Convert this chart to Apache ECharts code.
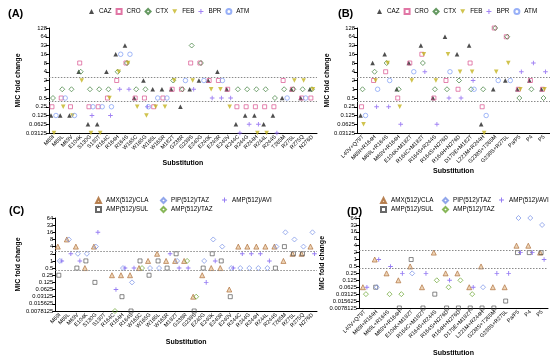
<!DOCTYPE html>
<html><head><meta charset="utf-8">
<script src="https://cdn.jsdelivr.net/npm/echarts@6/dist/echarts.min.js"></script>
<style>html,body{margin:0;padding:0;background:#fff}#c{width:550px;height:358px}</style>
</head><body><div id="c"></div>
<script>
const N = null;
const catsAC = ['M69I','M69L','M69V','E104K','S130G','S130T','R164C','R164H','R164S','W165C','W165G','W165L','W165R','M182T','G238R','G238S','E240G','E240K','E240R','E240V','R244C','R244G','R244H','R244L','R244S','T265M','R275L','R275Q','N276D'];
const catsBD = ['L40V+Q79T','M69I+R164H','M69L+R164S','M69V+R164H','E104K+M182T','R164C+M182T','R164S+R244S','R164S+N276D','R164H+N276D','D179E+M182T','L221M+R244H','G238S+T265M','G238S+R275L','Pa/P5','P4','P5'];
const yTicksAB = ['0.03125','0.0625','0.125','0.25','0.5','1','2','4','8','16','32','64','128'];
const yTicksCD = ['0.0078125','0.015625','0.03125','0.0625','0.125','0.25','0.5','1','2','4','8','16','32','64'];
const refHigh = 2.5, refLow = 0.4;

// Panel A (29 substitutions)
const A_CAZ = [0.125,0.125,0.125,4,0.0625,0.0625,4,16,32,0.5,2,1,1,1,0.25,1,2,2,4,1,0.0625,0.125,0.125,0.0625,0.125,0.5,1,0.5,1];
const A_CRO = [0.25,0.5,0.25,8,0.25,0.25,0.5,2,8,0.5,0.5,0.25,0.5,1,1,8,8,2,2,1,0.25,0.25,0.25,0.25,0.25,2,1,0.5,0.5];
const A_CTX = [0.5,1,1,4,1,1,1,4,8,1,1,N,N,2,1,32,8,N,N,N,1,1,1,1,0.5,1,1,1,1];
const A_FEB = [0.03125,0.25,0.125,2,0.03125,0.03125,0.5,4,8,0.25,0.125,0.25,0.25,2,N,2,N,1,1,0.25,N,N,0.03125,0.03125,N,N,2,2,1];
const A_BPR = [N,N,N,N,0.125,N,0.125,1,1,N,0.25,N,N,N,N,1,N,0.5,0.5,0.5,0.03125,0.0625,0.0625,N,0.03125,N,N,N,N];
const A_ATM = [0.125,0.5,0.125,N,0.25,0.25,0.25,16,16,N,0.25,0.5,0.5,N,2,N,2,N,2,N,N,N,N,N,N,0.5,N,0.5,N];

// Panel B (16 combinations)
const B_CAZ = [0.125,8,16,1,8,32,0.5,64,16,32,0.0625,1,2,1,2,1];
const B_CRO = [0.25,2,4,0.5,8,16,0.5,2,1,8,0.25,128,64,1,2,1];
const B_CTX = [1,4,8,1,N,8,1,1,2,1,1,128,64,0.5,1,0.5];
const B_FEB = [0.0625,2,8,0.25,2,16,2,16,4,4,0.03125,4,8,1,N,1];
const B_BPR = [N,0.25,0.25,0.0625,N,4,0.0625,0.5,0.5,2,N,N,N,4,8,4];
const B_ATM = [0.125,1,2,N,4,N,N,4,N,1,0.125,2,2,N,N,N];

// Panel C (29 substitutions)
const C_AMXCLA = [4,8,4,0.5,4,N,0.25,0.25,0.25,0.5,1,2,1,1,1,0.03125,0.25,0.5,0.5,0.0625,4,4,4,4,4,1,2,2,4];
const C_AMPSUL = [0.25,N,0.5,1,0.125,N,N,0.03125,0.0078125,1,0.25,1,0.5,2,N,0.0078125,0.5,2,1,0.03125,N,N,N,N,0.5,4,2,2,N];
const C_PIPTAZ = [1,8,2,2,4,N,N,0.5,0.125,N,0.5,0.5,N,1,N,N,1,8,4,0.5,0.5,0.5,0.5,0.5,4,16,8,4,16];
const C_AMPTAZ = [N,N,N,N,N,N,0.0078125,N,N,0.5,N,N,N,N,1,0.03125,N,N,N,N,N,N,N,N,N,N,N,N,N];
const C_AMPAVI = [1,2,1,N,16,N,0.0625,0.5,0.5,N,N,N,2,0.5,0.5,N,0.125,1,N,0.5,2,2,2,1,N,N,N,N,2];

// Panel D (16 combinations)
const D_AMXCLA = [0.0625,1,0.25,0.125,0.5,0.0625,2,0.25,0.25,0.0625,0.5,0.0625,0.0625,4,4,2];
const D_AMPSUL = [N,0.0625,N,0.0078125,1,0.0078125,0.03125,0.0078125,0.0078125,0.0078125,0.0078125,0.0078125,0.015625,2,2,2];
const D_PIPTAZ = [N,0.0625,N,N,0.25,N,N,N,N,N,0.0625,N,N,64,64,32];
const D_AMPTAZ = [0.03125,N,0.03125,0.03125,N,N,0.125,0.0625,0.125,0.03125,N,N,N,N,N,N];
const D_AMPAVI = [0.0625,1,0.5,0.25,N,0.25,N,0.125,N,0.0625,N,0.25,0.25,2,2,1];

const FONT = 'Liberation Sans, Arial, sans-serif';
const triDown = 'path://M0,0L10,0L5,9Z';
const plus = 'path://M4,0H6V4H10V6H6V10H4V6H0V4H4Z';

function pts(arr){ const out=[]; arr.forEach((v,i)=>{ if(v!=null) out.push([i, Math.log2(v)]); }); return out; }

const styleAB = {
  CAZ:{symbol:'triangle', size:4.6, item:{color:'#222'}, off:-2.5},
  CRO:{symbol:'rect', size:4, item:{color:'rgba(0,0,0,0)', borderColor:'#d9548f', borderWidth:0.9}, off:-1.5},
  CTX:{symbol:'diamond', size:5, item:{color:'rgba(0,0,0,0)', borderColor:'#3f7f3a', borderWidth:0.9}, off:-0.5},
  FEB:{symbol:triDown, size:4.6, item:{color:'#c4b422'}, off:0.5},
  BPR:{symbol:plus, size:4.6, item:{color:'#8a63f0'}, off:1.5},
  ATM:{symbol:'circle', size:4.5, item:{color:'rgba(0,0,0,0)', borderColor:'#7e9cf5', borderWidth:0.9}, off:2.5}
};
const styleCD = {
  'AMX(512)/CLA':{symbol:'triangle', size:5, item:{color:'#e9c9a4', borderColor:'#a8652d', borderWidth:0.8}, off:-2},
  'AMP(512)/SUL':{symbol:'rect', size:4, item:{color:'rgba(0,0,0,0)', borderColor:'#444', borderWidth:0.8}, off:-1},
  'PIP(512)/TAZ':{symbol:'diamond', size:5, item:{color:'rgba(0,0,0,0)', borderColor:'#7690e6', borderWidth:0.9}, off:0},
  'AMP(512)/TAZ':{symbol:'diamond', size:5, item:{color:'rgba(0,0,0,0)', borderColor:'#6aa52f', borderWidth:0.9}, off:1},
  'AMP(512)/AVI':{symbol:plus, size:4.6, item:{color:'#7c5cf0'}, off:2}
};

function ser(name, arr, idx, st, withRef){
  const s = {name, type:'scatter', xAxisIndex:idx, yAxisIndex:idx, data:pts(arr),
    symbol:st.symbol, symbolSize:st.size, symbolOffset:[st.off,0], itemStyle:st.item, z:3};
  if(withRef){
    s.markLine = {silent:true, symbol:'none', label:{show:false},
      lineStyle:{type:[1.5,1.5], color:'#8a8a8a', width:1},
      data:[{yAxis:Math.log2(refHigh)},{yAxis:Math.log2(refLow)}]};
  }
  return s;
}

const series = [
  ser('CAZ',A_CAZ,0,styleAB.CAZ,true), ser('CRO',A_CRO,0,styleAB.CRO), ser('CTX',A_CTX,0,styleAB.CTX),
  ser('FEB',A_FEB,0,styleAB.FEB), ser('BPR',A_BPR,0,styleAB.BPR), ser('ATM',A_ATM,0,styleAB.ATM),
  ser('CAZ',B_CAZ,1,styleAB.CAZ,true), ser('CRO',B_CRO,1,styleAB.CRO), ser('CTX',B_CTX,1,styleAB.CTX),
  ser('FEB',B_FEB,1,styleAB.FEB), ser('BPR',B_BPR,1,styleAB.BPR), ser('ATM',B_ATM,1,styleAB.ATM),
  ser('AMX(512)/CLA',C_AMXCLA,2,styleCD['AMX(512)/CLA'],true), ser('AMP(512)/SUL',C_AMPSUL,2,styleCD['AMP(512)/SUL']),
  ser('PIP(512)/TAZ',C_PIPTAZ,2,styleCD['PIP(512)/TAZ']), ser('AMP(512)/TAZ',C_AMPTAZ,2,styleCD['AMP(512)/TAZ']),
  ser('AMP(512)/AVI',C_AMPAVI,2,styleCD['AMP(512)/AVI']),
  ser('AMX(512)/CLA',D_AMXCLA,3,styleCD['AMX(512)/CLA'],true), ser('AMP(512)/SUL',D_AMPSUL,3,styleCD['AMP(512)/SUL']),
  ser('PIP(512)/TAZ',D_PIPTAZ,3,styleCD['PIP(512)/TAZ']), ser('AMP(512)/TAZ',D_AMPTAZ,3,styleCD['AMP(512)/TAZ']),
  ser('AMP(512)/AVI',D_AMPAVI,3,styleCD['AMP(512)/AVI'])
];

const grids = [
  {left:30, top:28, width:287, height:105},
  {left:357, top:28, width:193, height:105},
  {left:30, top:218, width:287, height:93},
  {left:359, top:218, width:189, height:93}
];
const xNameGap = [27, 31, 28, 42];
function xAx(i, cats){
  return {type:'category', gridIndex:i, data:cats, boundaryGap:true,
    axisLine:{onZero:false, lineStyle:{color:'#000', width:1}}, axisTick:{alignWithLabel:true, length:3, lineStyle:{color:'#000'}},
    axisLabel:{rotate:45, interval:0, fontSize:5.5, margin:3, color:'#000', fontFamily:FONT},
    name:'Substitution', nameLocation:'middle', nameGap:xNameGap[i],
    nameTextStyle:{fontWeight:'bold', fontSize:7, color:'#000', fontFamily:FONT}, splitLine:{show:false}};
}
function yAx(i, ticks, lo){
  return {type:'value', gridIndex:i, min:lo, max:lo+ticks.length-1, interval:1,
    axisLine:{show:true, onZero:false, lineStyle:{color:'#000', width:1}}, axisTick:{show:true, length:3, lineStyle:{color:'#000'}},
    axisLabel:{fontSize:5.8, margin:2, color:'#000', fontFamily:FONT, formatter:(v)=>ticks[Math.round(v-lo)]},
    splitLine:{show:false}, name:'MIC fold change', nameLocation:'middle', nameGap: (ticks===yTicksCD?31:25),
    nameTextStyle:{fontWeight:'bold', fontSize:7, color:'#000', fontFamily:FONT}};
}

const legTxt = {fontSize:6.3, color:'#000', fontFamily:FONT};
const legBase = {itemWidth:5, itemHeight:5, padding:0, textStyle:legTxt};
const option = {
  animation:false,
  textStyle:{fontFamily:FONT},
  title:[
    {text:'(A)', left:3, top:3, textStyle:{fontSize:11, fontWeight:'bold', color:'#000', fontFamily:FONT}},
    {text:'(B)', left:333, top:3, textStyle:{fontSize:11, fontWeight:'bold', color:'#000', fontFamily:FONT}},
    {text:'(C)', left:4, top:200, textStyle:{fontSize:11, fontWeight:'bold', color:'#000', fontFamily:FONT}},
    {text:'(D)', left:342, top:201, textStyle:{fontSize:11, fontWeight:'bold', color:'#000', fontFamily:FONT}}
  ],
  legend:[
    Object.assign({data:['CAZ','CRO','CTX','FEB','BPR','ATM'], left:89, top:8, itemGap:4}, legBase),
    Object.assign({data:['CAZ','CRO','CTX','FEB','BPR','ATM'], left:377, top:8, itemGap:4}, legBase),
    Object.assign({data:['AMX(512)/CLA','AMP(512)/SUL'], orient:'vertical', left:95, top:197, itemGap:2}, legBase),
    Object.assign({data:['PIP(512)/TAZ','AMP(512)/TAZ'], orient:'vertical', left:160, top:197, itemGap:2}, legBase),
    Object.assign({data:['AMP(512)/AVI'], orient:'vertical', left:222, top:197, itemGap:2}, legBase),
    Object.assign({data:['AMX(512)/CLA','AMP(512)/SUL'], orient:'vertical', left:380, top:197, itemGap:2}, legBase),
    Object.assign({data:['PIP(512)/TAZ','AMP(512)/TAZ'], orient:'vertical', left:442, top:197, itemGap:2}, legBase),
    Object.assign({data:['AMP(512)/AVI'], orient:'vertical', left:499, top:197, itemGap:2}, legBase)
  ],
  grid:grids,
  xAxis:[xAx(0,catsAC), xAx(1,catsBD), xAx(2,catsAC), xAx(3,catsBD)],
  yAxis:[yAx(0,yTicksAB,-5), yAx(1,yTicksAB,-5), yAx(2,yTicksCD,-7), yAx(3,yTicksCD,-7)],
  series
};
const chart = echarts.init(document.getElementById('c'), null, {renderer:'canvas'});
chart.setOption(option);
</script></body></html>
